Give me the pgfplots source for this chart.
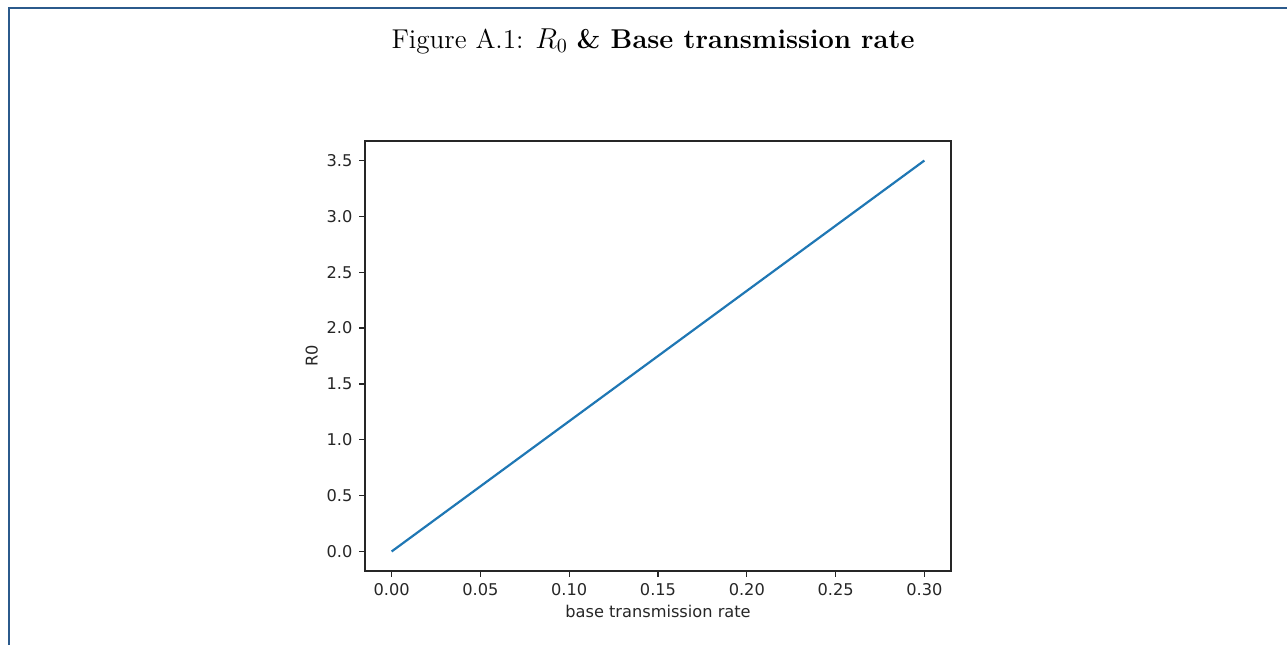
\documentclass[border=0pt]{standalone}
\usepackage{fontspec}
\usepackage{pgfplots}
\pgfplotsset{compat=1.18}
\newfontfamily\dejavu{DejaVu Sans}
\definecolor{framecol}{HTML}{2B5A8C}
\definecolor{mplblue}{HTML}{1F77B4}
\begin{document}
\begin{tikzpicture}
\useasboundingbox (0,0) rectangle (643.5pt,-322.5pt);
\draw[framecol, line width=1pt] (4.5pt,-322.5pt) -- (4.5pt,-4pt) -- (643.5pt,-4pt);
\node[anchor=base, font=\fontsize{13.6}{15.5}\selectfont] at (326.5pt,-24pt) {Figure A.1: $R_0$ \textbf{\& Base transmission rate}};
\begin{axis}[
  at={(182.5pt,-285.5pt)}, anchor=south west,
  scale only axis, width=293pt, height=215pt,
  xmin=-0.015, xmax=0.315, ymin=-0.175, ymax=3.675,
  xtick={0,0.05,0.1,0.15,0.2,0.25,0.3},
  ytick={0,0.5,1,1.5,2,2.5,3,3.5},
  axis line style={line width=0.6pt, black!85},
  tick style={line width=0.6pt, black!85},
  tick align=outside, major tick length=2.8pt,
  xtick pos=bottom, ytick pos=left,
  /pgf/number format/assume math mode=true,
  ticklabel style={font=\dejavu\fontsize{8.1}{9.5}\selectfont, text=black!85},
  xticklabel style={/pgf/number format/.cd, fixed, fixed zerofill, precision=2},
  yticklabel style={/pgf/number format/.cd, fixed, fixed zerofill, precision=1},
  xlabel={base transmission rate}, ylabel={R0},
  label style={font=\dejavu\fontsize{8.1}{9.5}\selectfont, text=black!85},
  xlabel style={yshift=2pt},
  ylabel style={yshift=-2.5pt},
]
\addplot[mplblue, line width=1.1pt] coordinates {
(0,0) (0.05,0.58333) (0.1,1.16667) (0.15,1.75) (0.2,2.33333) (0.25,2.91667) (0.3,3.5)
};
\end{axis}
\end{tikzpicture}
\end{document}
